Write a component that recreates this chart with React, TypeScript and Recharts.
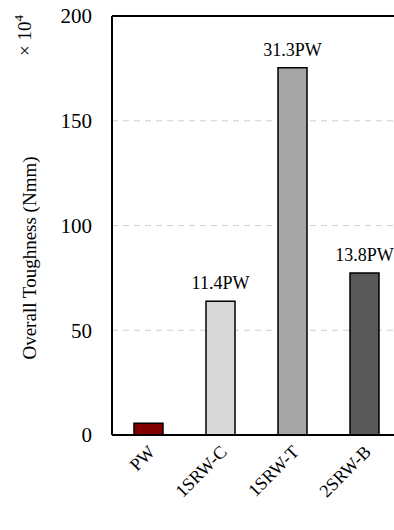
import React from "react";
import {
  BarChart,
  Bar,
  XAxis,
  YAxis,
  CartesianGrid,
  ReferenceLine,
  LabelList,
  Cell,
} from "recharts";

const categories = ["PW", "1SRW-C", "1SRW-T", "2SRW-B"];
const toughness = [5.6, 63.8, 175.3, 77.3];
const ratioLabels = ["", "11.4PW", "31.3PW", "13.8PW"];
const barColors = ["#800000", "#d9d9d9", "#a6a6a6", "#595959"];
const yTicks = [0, 50, 100, 150, 200];

const data = categories.map((name, i) => ({
  name,
  value: toughness[i],
  ratio: ratioLabels[i],
}));

const FONT = "Liberation Serif, Times New Roman, serif";

// tick label turned by -45 deg round its end point
function XTick(props: any) {
  const { x, y, payload } = props;
  const ax = x + 8;
  const ay = y + 10;
  const k = Math.SQRT1_2;
  const e = ax - k * ax - k * ay;
  const f = ay + k * ax - k * ay;
  return (
    <text
      x={ax}
      y={ay}
      textAnchor="end"
      fontFamily={FONT}
      fontSize={18}
      fill="#000"
      transform={`matrix(${k} ${-k} ${k} ${k} ${e} ${f})`}
    >
      {payload.value}
    </text>
  );
}

export default function App() {
  return (
    <div
      style={{
        position: "absolute",
        left: 0,
        top: 0,
        width: 394,
        height: 530,
        overflow: "hidden",
        background: "#fff",
        fontFamily: FONT,
      }}
    >
      <BarChart
        width={400}
        height={530}
        data={data}
        margin={{ top: 16, right: 0, bottom: 15, left: 52 }}
        barSize={29}
      >
        <CartesianGrid
          vertical={false}
          stroke="#d0d0d0"
          strokeDasharray="6 5"
        />
        <XAxis
          dataKey="name"
          axisLine={{ stroke: "#000", strokeWidth: 2 }}
          tickLine={false}
          interval={0}
          height={80}
          tick={XTick}
        />
        <YAxis
          domain={[0, 200]}
          ticks={yTicks}
          width={60}
          axisLine={{ stroke: "#000", strokeWidth: 2 }}
          tickLine={false}
          tickMargin={14}
          tick={{ fontSize: 21, fill: "#000", fontFamily: FONT }}
        />
        <ReferenceLine y={200} stroke="#000" strokeWidth={2} />
        <Bar
          dataKey="value"
          stroke="#000"
          strokeWidth={1.5}
          isAnimationActive={false}
        >
          {data.map((d, i) => (
            <Cell key={d.name} fill={barColors[i]} />
          ))}
          <LabelList
            dataKey="ratio"
            position="top"
            offset={12}
            fontSize={18}
            fill="#000"
            fontFamily={FONT}
          />
        </Bar>
        <text
          x={36}
          y={258}
          textAnchor="middle"
          fontFamily={FONT}
          fontSize={19}
          fill="#000"
          transform="rotate(-90, 36, 258)"
        >
          Overall Toughness (Nmm)
        </text>
        <text
          x={31}
          y={56}
          textAnchor="start"
          fontFamily={FONT}
          fontSize={19}
          fill="#000"
          transform="rotate(-90, 31, 56)"
        >
          × 10
          <tspan fontSize={13} dy={-8}>
            4
          </tspan>
        </text>
      </BarChart>
    </div>
  );
}
